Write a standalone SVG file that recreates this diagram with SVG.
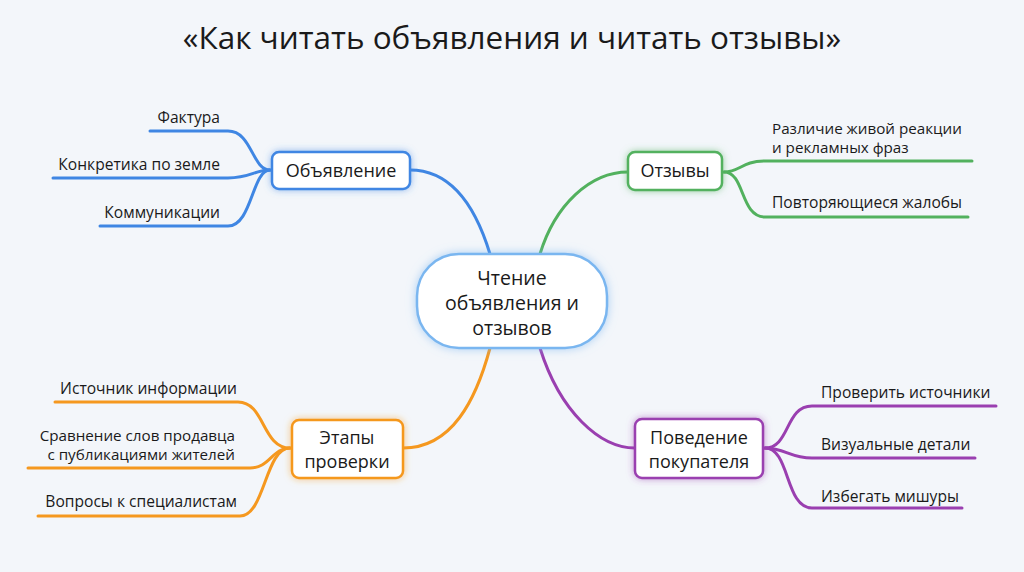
<svg xmlns="http://www.w3.org/2000/svg" width="1024" height="572" viewBox="0 0 1024 572">
<defs>
<style>
.bg{fill:#f3f6fa}
.t{font-family:"Open Sans","Noto Sans","Liberation Sans",sans-serif;fill:#1a1a1a}
.title{font-size:31.5px;text-anchor:middle}
.node{font-size:18px;text-anchor:middle}
.leaf{font-size:15.6px}
.leaf2{font-size:15.2px}
.box{fill:#ffffff;stroke-width:2.5}
.c{fill:none;stroke-width:3;stroke-linecap:round}
.blue{stroke:#3f86e3}
.green{stroke:#52b15e}
.orange{stroke:#f5981f}
.purple{stroke:#9a3fb0}
</style>
<filter id="gb" x="-30%" y="-50%" width="160%" height="200%"><feDropShadow dx="0" dy="0" stdDeviation="3.5" flood-color="#3f86e3" flood-opacity="0.55"/></filter>
<filter id="gg" x="-30%" y="-50%" width="160%" height="200%"><feDropShadow dx="0" dy="0" stdDeviation="3.5" flood-color="#52b15e" flood-opacity="0.55"/></filter>
<filter id="go" x="-30%" y="-50%" width="160%" height="200%"><feDropShadow dx="0" dy="0" stdDeviation="3.5" flood-color="#f5981f" flood-opacity="0.55"/></filter>
<filter id="gp" x="-30%" y="-50%" width="160%" height="200%"><feDropShadow dx="0" dy="0" stdDeviation="3.5" flood-color="#9a3fb0" flood-opacity="0.55"/></filter>
<filter id="gc" x="-30%" y="-50%" width="160%" height="200%"><feDropShadow dx="0" dy="0" stdDeviation="5" flood-color="#7ab6f0" flood-opacity="0.6"/></filter>
</defs>
<rect class="bg" x="0" y="0" width="1024" height="572"/>
<text class="t title" x="512" y="49">«Как читать объявления и читать отзывы»</text>

<g id="connectors">
<path class="c blue" d="M410,170 C452,170 476,208 490,254"/>
<path class="c green" d="M628,172 C590,172 555,205 540,254"/>
<path class="c orange" d="M403,448 C452,448 476,400 490,348"/>
<path class="c purple" d="M540,348 C560,412 600,448 635,448"/>

<path class="c blue" d="M150,131 L228,131 C252,131 252,170 270,170"/>
<path class="c blue" d="M53,178 L228,178 C250,178 255,170 270,170"/>
<path class="c blue" d="M100,226 L228,226 C252,226 252,170 270,170"/>

<path class="c green" d="M724,172 C740,172 742,161 765,161 L972,161"/>
<path class="c green" d="M724,172 C745,172 740,217 765,217 L968,217"/>

<path class="c orange" d="M55,402 L238,402 C265,402 262,448 290,448"/>
<path class="c orange" d="M28,468 L250,468 C270,468 272,448 290,448"/>
<path class="c orange" d="M38,516 L240,516 C265,516 265,448 290,448"/>

<path class="c purple" d="M765,448 C790,448 785,406 812,406 L996,406"/>
<path class="c purple" d="M765,448 C785,448 790,458 812,458 L975,458"/>
<path class="c purple" d="M765,448 C790,448 785,508 812,508 L962,508"/>
</g>

<g id="central">
<rect x="417" y="254" width="190" height="94" rx="42" fill="#ffffff" stroke="#7ab6f0" stroke-width="2.5" filter="url(#gc)"/>
<text class="t" font-size="19.5" text-anchor="middle" x="512" y="285">Чтение</text>
<text class="t" font-size="19.5" text-anchor="middle" x="512" y="310">объявления и</text>
<text class="t" font-size="19.5" text-anchor="middle" x="512" y="335">отзывов</text>
</g>

<g id="n-ad">
<rect class="box blue" x="272" y="152" width="138" height="37" rx="7" filter="url(#gb)"/>
<text class="t node" x="341" y="177">Объявление</text>
</g>
<g id="n-reviews">
<rect class="box green" x="628" y="152" width="94" height="38" rx="7" filter="url(#gg)"/>
<text class="t node" x="675" y="177">Отзывы</text>
</g>
<g id="n-steps">
<rect class="box orange" x="292" y="420" width="111" height="58" rx="7" filter="url(#go)"/>
<text class="t node" x="347" y="444">Этапы</text>
<text class="t node" x="347" y="468">проверки</text>
</g>
<g id="n-buyer">
<rect class="box purple" x="635" y="419" width="128" height="59" rx="7" filter="url(#gp)"/>
<text class="t node" x="699" y="444">Поведение</text>
<text class="t node" x="699" y="468">покупателя</text>
</g>

<g id="leaf-blue">
<text class="t leaf" text-anchor="end" x="220" y="123">Фактура</text>
<text class="t leaf" text-anchor="end" x="220" y="170">Конкретика по земле</text>
<text class="t leaf" text-anchor="end" x="220" y="218">Коммуникации</text>
</g>
<g id="leaf-green">
<text class="t leaf2" x="772" y="134">Различие живой реакции</text>
<text class="t leaf2" x="772" y="153">и рекламных фраз</text>
<text class="t leaf" x="772" y="208">Повторяющиеся жалобы</text>
</g>
<g id="leaf-orange">
<text class="t leaf" text-anchor="end" x="237" y="394">Источник информации</text>
<text class="t leaf2" text-anchor="end" x="235" y="441">Сравнение слов продавца</text>
<text class="t leaf2" text-anchor="end" x="235" y="460">с публикациями жителей</text>
<text class="t leaf" text-anchor="end" x="237" y="507">Вопросы к специалистам</text>
</g>
<g id="leaf-purple">
<text class="t leaf" x="821" y="398">Проверить источники</text>
<text class="t leaf" x="821" y="450">Визуальные детали</text>
<text class="t leaf" x="821" y="502">Избегать мишуры</text>
</g>
</svg>
